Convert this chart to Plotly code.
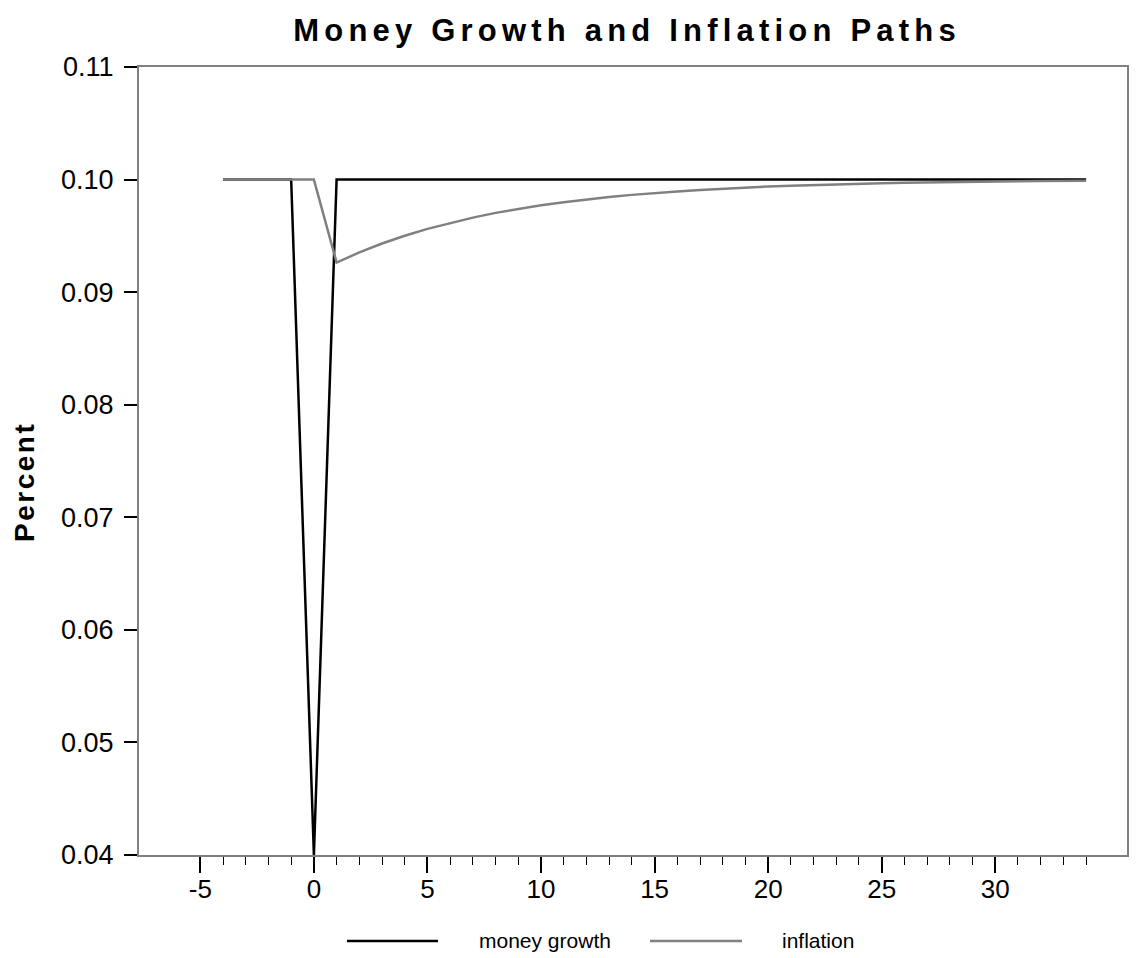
import plotly.graph_objects as go

# ---- data ----
periods = list(range(-4, 35))
money_growth = [0.10, 0.10, 0.10, 0.10, 0.04] + [0.10] * 34
inflation = [0.10, 0.10, 0.10, 0.10, 0.10,
             0.09263, 0.09353, 0.09432, 0.09501, 0.09562, 0.09615, 0.09662,
             0.09704, 0.09740, 0.09771, 0.09799, 0.09824, 0.09845, 0.09864,
             0.09881, 0.09895, 0.09908, 0.09919, 0.09929, 0.09938, 0.09945,
             0.09952, 0.09958, 0.09963, 0.09968, 0.09971, 0.09975, 0.09978,
             0.09981, 0.09983, 0.09985, 0.09987, 0.09989, 0.09990]
series_names = ["money growth", "inflation"]
series_colors = ["#000000", "#808080"]
x_major_ticks = [-5, 0, 5, 10, 15, 20, 25, 30]
x_major_labels = ["-5", "0", "5", "10", "15", "20", "25", "30"]
y_ticks = [0.04, 0.05, 0.06, 0.07, 0.08, 0.09, 0.10, 0.11]

FONT = "Liberation Sans, Arial, sans-serif"

fig = go.Figure()
for name, vals, col in zip(series_names, [money_growth, inflation], series_colors):
    fig.add_trace(go.Scatter(x=periods, y=vals, mode="lines", name=name,
                             line=dict(color=col, width=2.5), showlegend=False))

# custom legend (long line samples)
leg_y = -0.109
leg_items = [(0.2105, 0.3026, 0.3421), (0.5172, 0.6103, 0.6488)]
for (x0, x1, xt), name, col in zip(leg_items, series_names, series_colors):
    fig.add_shape(type="line", xref="paper", yref="paper", x0=x0, x1=x1,
                  y0=leg_y, y1=leg_y, line=dict(color=col, width=2.5))
    fig.add_annotation(xref="paper", yref="paper", x=xt, y=leg_y, text=name,
                       showarrow=False, xanchor="left", yanchor="middle",
                       font=dict(family=FONT, size=21, color="#000000"))

# y-axis title (placed as in the reference, slightly below centre)
fig.add_annotation(xref="paper", yref="paper", x=-0.1154, y=0.4734,
                   text='<span style="letter-spacing:2.5px"><b>Percent</b></span>',
                   textangle=-90, showarrow=False, xanchor="center", yanchor="middle",
                   font=dict(family=FONT, size=28, color="#000000"))

# page body has an 8px default margin, so figure is 1130x950 and margins reduced by 8
fig.update_layout(
    width=1130, height=950,
    margin=dict(l=131, r=11, t=59, b=103),
    paper_bgcolor="white", plot_bgcolor="white",
    title=dict(text='<span style="letter-spacing:5.2px"><b>Money Growth and Inflation Paths</b></span>',
               x=0.494, xref="paper",
               y=1 - 22 / 950, yref="container", xanchor="center", yanchor="middle",
               font=dict(family=FONT, size=31, color="#000000")),
    xaxis=dict(range=[-7.7, 35.8], tickmode="array", tickvals=x_major_ticks,
               ticktext=x_major_labels, automargin=False,
               ticks="outside", ticklen=16, tickwidth=1.5, tickcolor="#000000",
               ticklabelstandoff=-6,
               showline=True, linecolor="#808080", linewidth=2, mirror=True,
               showgrid=False, zeroline=False,
               tickfont=dict(family=FONT, size=26, color="#000000"),
               minor=dict(tickmode="array", tickvals=periods, ticks="outside",
                          ticklen=8, tickwidth=1.2, tickcolor="#000000", showgrid=False)),
    yaxis=dict(range=[0.04, 0.11], tickmode="array", tickvals=y_ticks, tickformat=".2f",
               automargin=False, ticklabelstandoff=5,
               ticks="outside", ticklen=13, tickwidth=1.5, tickcolor="#000000",
               showline=True, linecolor="#808080", linewidth=2, mirror=True,
               showgrid=False, zeroline=False,
               tickfont=dict(family=FONT, size=27, color="#000000")),
)

fig.write_html("out.html")
